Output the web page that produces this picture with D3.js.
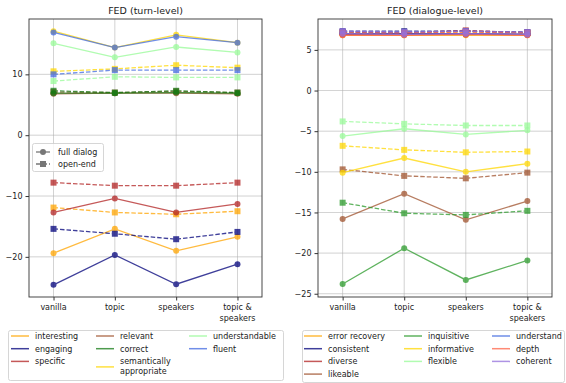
<!DOCTYPE html>
<html>
<head>
<meta charset="utf-8">
<script src="https://cdn.jsdelivr.net/npm/d3@7"></script>
<style>
  html, body { margin: 0; padding: 0; background: #fff; }
  svg { display: block; font-family: "DejaVu Sans", sans-serif; }
</style>
</head>
<body>
<svg id="chart" width="566" height="383"></svg>
<script>
// Prompt settings on the x axis
const settings = ["vanilla", "topic", "speakers", "topic & speakers"];
const settingLabels = [["vanilla"], ["topic"], ["speakers"], ["topic &", "speakers"]];

// Turn-level qualities (solid = full dialog, dashed = open-end)
const turnMetrics = ["interesting", "engaging", "specific", "relevant", "correct",
  "semantically appropriate", "understandable", "fluent"];
const turnColors = ["#ffa500", "#00007a", "#b22222", "#a0522d", "#137a13",
  "#ffd700", "#98fb98", "#4169e1"];
const turnFull = [
  [-19.4, -15.4, -19.0, -16.7],
  [-24.6, -19.7, -24.5, -21.2],
  [-12.7, -10.4, -12.7, -11.3],
  [6.8, 6.9, 6.9, 6.8],
  [6.9, 6.9, 7.0, 6.9],
  [17.1, 14.4, 16.5, 15.2],
  [15.1, 12.8, 14.5, 13.6],
  [16.9, 14.4, 16.2, 15.2]
];
const turnOpen = [
  [-11.9, -12.7, -13.0, -12.5],
  [-15.4, -16.2, -17.1, -15.9],
  [-7.8, -8.3, -8.3, -7.8],
  [7.1, 7.0, 7.2, 7.0],
  [7.3, 7.0, 7.3, 7.0],
  [10.5, 10.9, 11.5, 11.1],
  [8.9, 9.6, 9.5, 9.5],
  [10.0, 10.7, 10.7, 10.7]
];
const turnTicks = [10, 0, -10, -20];

// Dialogue-level qualities
const dialMetrics = ["error recovery", "consistent", "diverse", "likeable", "inquisitive",
  "informative", "flexible", "understand", "depth", "coherent"];
const dialColors = ["#ffa500", "#00007a", "#b22222", "#a0522d", "#2a9a2a",
  "#ffd700", "#98fb98", "#4169e1", "#ff6347", "#9370db"];
const dialFull = [
  [6.8, 6.8, 6.8, 6.8],
  [7.0, 7.0, 7.0, 6.9],
  [6.9, 6.9, 6.9, 6.9],
  [-15.8, -12.7, -15.9, -13.6],
  [-23.8, -19.4, -23.3, -20.9],
  [-10.1, -8.3, -10.0, -9.0],
  [-5.6, -4.7, -5.4, -4.9],
  [7.0, 6.9, 7.0, 6.9],
  [6.8, 6.8, 6.9, 6.8],
  [7.0, 6.9, 7.0, 6.9]
];
const dialOpen = [
  [7.1, 7.1, 7.2, 7.1],
  [7.3, 7.3, 7.3, 7.2],
  [7.2, 7.1, 7.4, 7.1],
  [-9.7, -10.5, -10.8, -10.1],
  [-13.8, -15.1, -15.3, -14.8],
  [-6.8, -7.3, -7.6, -7.5],
  [-3.8, -4.1, -4.3, -4.3],
  [7.2, 7.2, 7.3, 7.1],
  [7.1, 7.1, 7.2, 7.1],
  [7.3, 7.2, 7.3, 7.2]
];
const dialTicks = [5, 0, -5, -10, -15, -20, -25];

const svg = d3.select("#chart");
const fmt = v => (v < 0 ? "\u2212" + Math.abs(v) : String(v));

function panel(opts) {
  const { left, right, top, bottom, yDomain, yTicks, title, metrics, colors, full, open } = opts;
  const x = d3.scaleLinear().domain([-0.4, 3.4]).range([left, right]);
  const y = d3.scaleLinear().domain(yDomain).range([top, bottom]);
  const g = svg.append("g");

  // grid
  g.append("g").selectAll("line.vx").data(settings).join("line")
    .attr("x1", (d, i) => x(i)).attr("x2", (d, i) => x(i))
    .attr("y1", top).attr("y2", bottom)
    .attr("stroke", "#b0b0b0").attr("stroke-width", 0.8).attr("opacity", 0.7);
  g.append("g").selectAll("line.hy").data(yTicks).join("line")
    .attr("x1", left).attr("x2", right)
    .attr("y1", d => y(d)).attr("y2", d => y(d))
    .attr("stroke", "#b0b0b0").attr("stroke-width", 0.8).attr("opacity", 0.7);

  const line = d3.line().x((d, i) => x(i)).y(d => y(d));
  metrics.forEach((m, k) => {
    const c = colors[k];
    const sg = g.append("g").attr("opacity", 0.75);
    sg.append("path").attr("d", line(full[k])).attr("fill", "none")
      .attr("stroke", c).attr("stroke-width", 1.3);
    sg.selectAll("circle").data(full[k]).join("circle")
      .attr("cx", (d, i) => x(i)).attr("cy", d => y(d)).attr("r", 3).attr("fill", c);
    const og = g.append("g").attr("opacity", 0.75);
    og.append("path").attr("d", line(open[k])).attr("fill", "none")
      .attr("stroke", c).attr("stroke-width", 1.3).attr("stroke-dasharray", "4.5,2");
    og.selectAll("rect").data(open[k]).join("rect")
      .attr("x", (d, i) => x(i) - 3).attr("y", d => y(d) - 3)
      .attr("width", 6).attr("height", 6).attr("fill", c);
  });

  // frame
  g.append("rect").attr("x", left).attr("y", top)
    .attr("width", right - left).attr("height", bottom - top)
    .attr("fill", "none").attr("stroke", "#333").attr("stroke-width", 0.9);

  // y axis
  const yAxis = d3.axisLeft(y).tickValues(yTicks).tickFormat(fmt).tickSize(3.5).tickPadding(3);
  const ya = g.append("g").attr("transform", `translate(${left},0)`).call(yAxis);
  ya.select(".domain").remove();
  ya.selectAll("line").attr("stroke", "#333");
  ya.selectAll("text").attr("font-size", 8).attr("fill", "#222")
    .attr("font-family", "DejaVu Sans, sans-serif");

  // x axis
  const xAxis = d3.axisBottom(x).tickValues([0, 1, 2, 3]).tickFormat("").tickSize(3.5);
  const xa = g.append("g").attr("transform", `translate(0,${bottom})`).call(xAxis);
  xa.select(".domain").remove();
  xa.selectAll("line").attr("stroke", "#333");
  settingLabels.forEach((lines, i) => {
    const t = g.append("text").attr("x", x(i)).attr("y", bottom + 13)
      .attr("text-anchor", "middle").attr("font-size", 8).attr("fill", "#222");
    lines.forEach((s, j) => t.append("tspan").attr("x", x(i)).attr("dy", j ? 10.5 : 0).text(s));
  });

  g.append("text").attr("x", (left + right) / 2).attr("y", 14)
    .attr("text-anchor", "middle").attr("font-size", 9.5).attr("fill", "#222").text(title);
  return { x, y };
}

panel({ left: 29, right: 262, top: 19, bottom: 297, yDomain: [19.1, -26.6], yTicks: turnTicks,
  title: "FED (turn-level)", metrics: turnMetrics, colors: turnColors, full: turnFull, open: turnOpen });
panel({ left: 318, right: 552, top: 19, bottom: 297, yDomain: [8.8, -25.4], yTicks: dialTicks,
  title: "FED (dialogue-level)", metrics: dialMetrics, colors: dialColors, full: dialFull, open: dialOpen });

// style legend inside the left panel
const styleLegend = svg.append("g");
styleLegend.append("rect").attr("x", 32.5).attr("y", 143.5).attr("width", 71).attr("height", 28)
  .attr("rx", 2).attr("fill", "#fff").attr("fill-opacity", 0.8).attr("stroke", "#ccc").attr("stroke-width", 0.8);
[["full dialog", null, "circle"], ["open-end", "4.5,2", "rect"]].forEach(([label, dash, mark], i) => {
  const yy = 152 + i * 12;
  styleLegend.append("line").attr("x1", 36).attr("x2", 50).attr("y1", yy).attr("y2", yy)
    .attr("stroke", "#777").attr("stroke-width", 1.3).attr("stroke-dasharray", dash);
  if (mark === "circle") styleLegend.append("circle").attr("cx", 43).attr("cy", yy).attr("r", 3).attr("fill", "#777");
  else styleLegend.append("rect").attr("x", 40).attr("y", yy - 3).attr("width", 6).attr("height", 6).attr("fill", "#777");
  styleLegend.append("text").attr("x", 58).attr("y", yy + 3).attr("font-size", 8).attr("fill", "#222").text(label);
});

// colour legends below the panels
function colorLegend(box, cols, metrics, colors, colX) {
  const g = svg.append("g");
  g.append("rect").attr("x", box[0]).attr("y", box[1]).attr("width", box[2]).attr("height", box[3])
    .attr("rx", 2).attr("fill", "#fff").attr("stroke", "#ccc").attr("stroke-width", 0.8);
  let idx = 0;
  cols.forEach((n, c) => {
    let yy = 336;
    for (let r = 0; r < n; r++, idx++) {
      const words = metrics[idx] === "semantically appropriate" ? ["semantically", "appropriate"] : [metrics[idx]];
      const ly = words.length > 1 ? yy + 5.5 : yy;
      g.append("line").attr("x1", colX[c]).attr("x2", colX[c] + 18).attr("y1", ly).attr("y2", ly)
        .attr("stroke", colors[idx]).attr("stroke-width", 1.5).attr("opacity", 0.75);
      const t = g.append("text").attr("x", colX[c] + 24).attr("y", yy + 3)
        .attr("font-size", 8).attr("fill", "#222");
      words.forEach((w, j) => t.append("tspan").attr("x", colX[c] + 24).attr("dy", j ? 10 : 0).text(w));
      yy += 12.7 * words.length;
    }
  });
}
colorLegend([8.5, 330.5, 275, 50], [3, 3, 2], turnMetrics, turnColors, [11, 96, 189]);
colorLegend([302.5, 330.5, 262, 52], [4, 3, 3], dialMetrics, dialColors, [304, 404, 492]);
</script>
</body>
</html>
